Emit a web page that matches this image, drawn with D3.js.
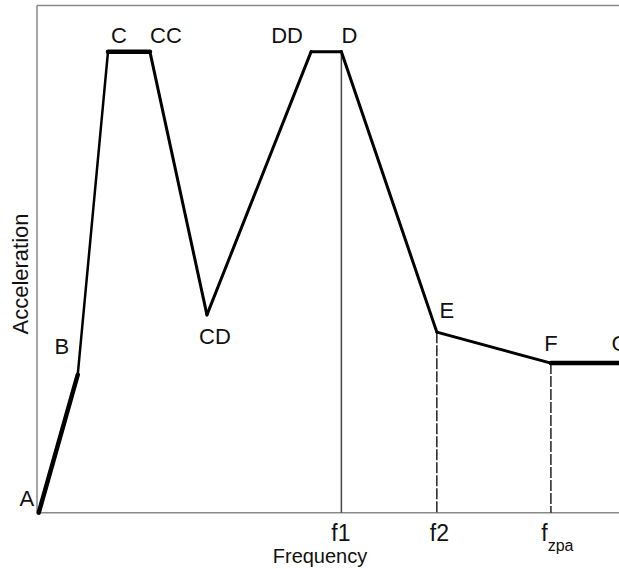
<!DOCTYPE html>
<html>
<head>
<meta charset="utf-8">
<script src="https://cdn.jsdelivr.net/npm/d3@7"></script>
<style>
  body { margin: 0; background: #fff; }
  text { font-family: "Liberation Sans", Arial, sans-serif; fill: #111; }
</style>
</head>
<body>
<div id="chart"></div>
<script>
// Response spectrum shape (percent of axis span)
var pointNames = ["A", "B", "C", "CC", "CD", "DD", "D", "E", "F", "G"];
var freqValues = [0.3, 7.0, 12.2, 19.4, 29.2, 47.1, 52.3, 68.7, 88.3, 100];
var accelValues = [0, 27.2, 90.9, 90.9, 39.0, 90.9, 90.9, 35.6, 29.5, 29.5];

// corner frequencies shown on the x axis
var tickNames = ["f1", "f2", "fzpa"];
var tickPoints = ["D", "E", "F"];

// segments drawn heavier / lighter in the original
var heavySegments = [["A", "B"], ["C", "CC"], ["F", "G"]];
var lightSegments = [["B", "C"]];

var width = 619, height = 569;
var margin = {top: 5.5, right: 0, bottom: 56.3, left: 37};

var svg = d3.select("#chart")
  .append("svg")
    .attr("width", width)
    .attr("height", height);

var x = d3.scaleLinear()
  .domain([0, 100])
  .range([margin.left, width - margin.right]);

var y = d3.scaleLinear()
  .domain([0, 100])
  .range([height - margin.bottom, margin.top]);

var data = pointNames.map(function(n, i) {
  return {name: n, f: freqValues[i], a: accelValues[i]};
});
var byName = {};
data.forEach(function(d) { byName[d.name] = d; });

// frame: left and top lines
var frame = svg.append("g").attr("stroke", "#888").attr("stroke-width", 1.5);
frame.append("line")
  .attr("x1", x(0)).attr("x2", x(0))
  .attr("y1", y(100)).attr("y2", y(0));
frame.append("line")
  .attr("x1", x(0)).attr("x2", x(100))
  .attr("y1", y(100)).attr("y2", y(100));

// x axis with the named corner frequencies
var tickVals = tickPoints.map(function(n) { return byName[n].f; });
var xAxis = svg.append("g")
  .attr("transform", "translate(0," + y(0) + ")")
  .call(d3.axisBottom(x).tickValues(tickVals).tickSize(0).tickFormat(""));
xAxis.select(".domain")
  .attr("stroke", "#888")
  .attr("stroke-width", 1.5)
  .attr("d", "M" + x(0) + ",0H" + x(100));

xAxis.selectAll(".tick text").remove();
xAxis.selectAll(".tick").each(function(d, i) {
  var name = tickNames[i];
  var t = d3.select(this).append("text")
    .attr("y", 28)
    .attr("font-size", 23)
    .attr("text-anchor", "middle");
  if (name === "fzpa") {
    t.attr("dx", 6);
    t.append("tspan").text("f");
    t.append("tspan").attr("dy", 10).attr("font-size", 16).text("zpa");
  } else {
    t.attr("dx", i === 0 ? -1 : 2).text(name);
  }
});

// reference lines down to the axis
svg.append("line")
  .attr("x1", x(byName.D.f)).attr("x2", x(byName.D.f))
  .attr("y1", y(byName.D.a)).attr("y2", y(0))
  .attr("stroke", "#444").attr("stroke-width", 1.5);

["E", "F"].forEach(function(n) {
  svg.append("line")
    .attr("x1", x(byName[n].f)).attr("x2", x(byName[n].f))
    .attr("y1", y(byName[n].a)).attr("y2", y(0))
    .attr("stroke", "#222").attr("stroke-width", 1.5)
    .attr("stroke-dasharray", "11,2");
});

// spectrum curve, segment by segment
var line = d3.line()
  .x(function(d) { return x(d.f); })
  .y(function(d) { return y(d.a); });

function isIn(list, a, b) {
  return list.some(function(s) { return s[0] === a && s[1] === b; });
}

var segs = d3.pairs(data);
svg.selectAll(".seg")
  .data(segs)
  .enter()
  .append("path")
    .attr("class", "seg")
    .attr("fill", "none")
    .attr("stroke", "#000")
    .attr("stroke-linecap", "round")
    .attr("stroke-width", function(s) {
      if (isIn(heavySegments, s[0].name, s[1].name)) return 4.5;
      if (isIn(lightSegments, s[0].name, s[1].name)) return 2.5;
      return 3;
    })
    .attr("d", function(s) { return line(s); });

// point labels
var labelOffsets = {
  A: [-12, -7], B: [-16, -21], C: [11, -9], CC: [16, -9], CD: [8, 29],
  DD: [-24, -9], D: [8, -9], E: [10, -14], F: [0, -12], G: [1, -12]
};
svg.selectAll(".plabel")
  .data(data)
  .enter()
  .append("text")
    .attr("class", "plabel")
    .attr("x", function(d) { return x(d.f) + labelOffsets[d.name][0]; })
    .attr("y", function(d) { return y(d.a) + labelOffsets[d.name][1]; })
    .attr("text-anchor", "middle")
    .attr("font-size", 22)
    .text(function(d) { return d.name; });

// axis titles
svg.append("text")
  .attr("x", 320)
  .attr("y", 563)
  .attr("text-anchor", "middle")
  .attr("font-size", 20)
  .text("Frequency");

svg.append("text")
  .attr("transform", "translate(28,274) rotate(-90)")
  .attr("text-anchor", "middle")
  .attr("font-size", 22)
  .text("Acceleration");
</script>
</body>
</html>
